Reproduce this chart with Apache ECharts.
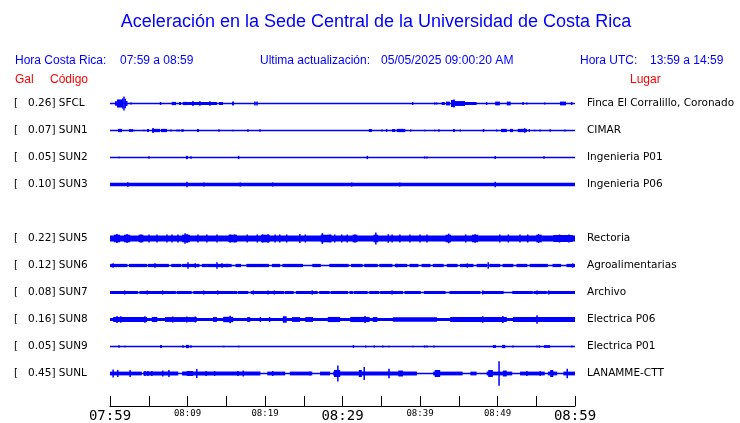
<!DOCTYPE html>
<html><head><meta charset="utf-8">
<script src="https://cdn.jsdelivr.net/npm/echarts@6/dist/echarts.min.js"></script>
<style>html,body{margin:0;padding:0;background:#fff}#c{width:740px;height:423px}</style>
</head><body><div id="c"></div>
<script>
// ---- data ----
const codes  = ['SFCL','SUN1','SUN2','SUN3','SUN5','SUN6','SUN7','SUN8','SUN9','SUNL'];
const peaks  = ['0.26','0.07','0.05','0.10','0.22','0.12','0.08','0.16','0.05','0.45'];
const places = ['Finca El Corralillo, Coronado','CIMAR','Ingenieria P01','Ingenieria P06','Rectoria','Agroalimentarias','Archivo','Electrica P06','Electrica P01','LANAMME-CTT'];
const rows   = [0,1,2,3,5,6,7,8,9,10];   // SUN4 slot (row 4) is empty
const tickLabels = ['07:59','','08:09','','08:19','','08:29','','08:39','','08:49','','08:59'];
const bigTicks = [0,6,12];
const title = 'Aceleración en la Sede Central de la Universidad de Costa Rica';
const headerCR = ['Hora Costa Rica:','07:59 a 08:59'];
const headerUpd = ['Ultima actualización:','05/05/2025 09:00:20 AM'];
const headerUTC = ['Hora UTC:','13:59 a 14:59'];
const colHeads = ['Gal','Código','Lugar'];

// trace envelopes: [minStart, minEnd, halfAmplitude(gal)] or spike [min, halfAmplitude]
const sfcl = [[0.65,0.9,0.085],[0.9,1.55,0.15],[1.55,1.74,0.19],[1.74,1.87,0.26],[1.87,2.06,0.18],[2.06,2.26,0.09],[2.71,0.04],[6.45,6.6,0.055],[7.96,8.52,0.06],[8.9,9.16,0.055],[9.38,9.94,0.06],[9.94,13.8,0.055],[10.7,0.09],[11.6,0.08],[12.9,0.08],[14.06,14.58,0.055],[15.74,16.0,0.07],[18.7,0.07],[18.97,0.07],[39.06,0.055],[41.9,0.04],[42.15,0.04],[42.8,43.2,0.055],[43.35,43.87,0.07],[44.0,44.5,0.13],[44.4,0.15],[44.5,45.8,0.09],[45.8,47.3,0.055],[48.6,0.055],[49.7,50.3,0.07],[51.2,51.7,0.07],[53.3,0.055],[53.8,0.04],[56.1,0.04],[58.06,58.84,0.07],[59.57,0.055]];
const sun1 = [[1.03,1.55,0.06],[2.45,2.97,0.05],[3.1,0.03],[4.39,0.03],[4.77,5.03,0.055],[5.42,6.45,0.06],[5.55,0.09],[6.58,7.35,0.06],[7.87,0.04],[8.65,0.04],[8.9,0.04],[9.29,0.05],[9.42,0.05],[11.23,11.48,0.06],[14.06,0.05],[15.87,0.03],[17.8,0.05],[19.35,0.05],[33.4,33.8,0.055],[35.1,0.04],[35.7,0.05],[36.4,36.8,0.055],[37.0,38.1,0.06],[38.8,0.04],[40.6,0.02],[41.9,0.03],[42.45,0.05],[44.26,44.5,0.06],[45.2,0.04],[48.1,48.3,0.055],[49.9,0.04],[50.45,51.2,0.06],[51.6,52.0,0.06],[52.6,53.8,0.06],[53.5,0.085],[54.1,0.05],[54.8,0.03],[55.5,0.04],[56.8,0.05],[58.7,0.04]];
const sun2 = [[1.16,0.03],[5.03,0.05],[9.8,10.06,0.06],[10.45,0.05],[16.6,0.06],[33.2,0.06],[40.6,0.04],[40.9,0.04],[49.7,0.06],[56.0,0.05]];
const sun3 = [[0,60,0.068],[2.3,0.08],[9.94,0.1],[12.1,0.075],[16.8,0.075],[21.0,0.075],[31.2,0.075],[37.4,0.075],[49.7,0.1]];
const sun5 = [[0,60,0.115],[0.5,1.3,0.14],[1.8,2.6,0.14],[3.7,4.3,0.14],[9.3,10.3,0.14],[15.3,16.4,0.14],[19.5,20.6,0.14],[27.2,28.6,0.14],[31.3,31.9,0.14],[34.0,34.6,0.14],[43.3,44.0,0.14],[46.7,47.5,0.14],[55.0,55.7,0.14],[57.2,59.7,0.13],
  [0.9,0.17],[2.2,0.17],[4.0,0.15],[5.03,0.15],[6.06,0.15],[7.35,0.15],[8.0,0.15],[8.77,0.15],[9.68,0.19],[9.94,0.17],[11.35,0.15],[12.5,0.15],[13.8,0.15],[15.5,0.15],[16.1,0.15],[17.7,0.15],[19.0,0.15],[19.7,0.15],[20.4,0.16],[21.3,0.15],[21.9,0.15],[22.8,0.15],[24.5,0.17],[25.2,0.15],[27.4,0.2],[28.4,0.15],[29.0,0.15],[29.9,0.15],[30.6,0.15],[31.6,0.15],[34.3,0.22],[35.9,0.16],[36.4,0.15],[37.4,0.15],[38.7,0.15],[40.0,0.15],[40.9,0.15],[43.7,0.18],[45.9,0.15],[47.1,0.16],[50.3,0.15],[51.4,0.15],[52.9,0.15],[53.9,0.15],[55.3,0.17],[58.0,0.15],[59.2,0.15]];
const sun6 = [[0,2.25,0.06],[2.45,4.8,0.06],[4.9,7.6,0.06],[7.9,9.2,0.06],[9.3,11.55,0.06],[11.85,15.7,0.06],[16.2,16.9,0.06],[17.6,20.5,0.06],[20.9,21.95,0.06],[22.25,24.9,0.06],[26.1,27.2,0.06],[28.3,30.8,0.06],[31.1,32.6,0.06],[32.8,34.55,0.06],[34.75,36.45,0.06],[36.75,38.35,0.06],[38.65,39.8,0.06],[40.2,41.35,0.06],[41.65,43.05,0.06],[43.45,44.85,0.06],[45.15,46.9,0.06],[47.3,48.65,0.06],[48.95,50.35,0.06],[50.65,52.05,0.06],[52.45,53.85,0.06],[54.15,56.5,0.06],[57.1,58.2,0.06],[58.9,60,0.06],
  [0.4,0.085],[5.8,0.08],[10.06,0.12],[11.0,0.08],[13.8,0.12],[14.45,0.08],[15.1,0.065],[37.0,0.065],[46.1,0.08],[48.8,0.12],[59.7,0.08]];
const sun7 = [[0,3.6,0.055],[3.8,8.5,0.055],[8.6,10.55,0.055],[10.75,16.4,0.055],[16.5,17.85,0.055],[18.15,22.45,0.055],[22.55,23.7,0.055],[24.0,26.8,0.055],[27.0,28.35,0.055],[28.45,30.7,0.055],[30.9,31.35,0.055],[31.45,33.25,0.055],[33.45,34.75,0.055],[34.85,37.8,0.055],[38.0,40.1,0.055],[40.5,43.3,0.055],[43.8,47.8,0.055],[48.0,50.8,0.055],[51.9,54.55,0.055],[54.65,56.35,0.055],[56.45,60,0.055],
  [1.9,0.075],[4.8,0.075],[6.8,0.075],[12.1,0.075],[13.9,0.075],[18.5,0.075],[20.4,0.075],[21.2,0.075],[26.1,0.08],[36.4,0.075],[48.1,0.075],[55.1,0.075],[56.6,0.075]];
const sun8 = [[0,60,0.06],[0.4,4.8,0.095],[5.4,6.1,0.095],[7.1,11.2,0.09],[13.3,13.8,0.09],[14.6,15.9,0.1],[17.7,18.1,0.09],[22.3,22.8,0.12],[23.5,24.5,0.09],[25.2,26.2,0.09],[28.1,29.7,0.095],[31.0,33.5,0.095],[33.9,34.5,0.09],[36.5,42.2,0.085],[43.9,51.2,0.09],[52.0,60,0.09],
  [0.9,0.13],[1.4,0.12],[4.5,0.12],[8.1,0.11],[9.9,0.11],[11.0,0.11],[15.5,0.14],[19.4,0.09],[20.6,0.09],[32.9,0.13],[48.1,0.12],[50.7,0.13],[55.1,0.16]];
const sun9 = [[1.16,0.05],[1.94,0.03],[6.45,6.7,0.055],[9.42,0.05],[9.8,10.2,0.06],[10.45,0.05],[14.7,0.03],[16.6,0.03],[31.4,0.05],[33.0,0.04],[34.1,0.04],[35.2,0.04],[36.0,0.03],[39.1,0.03],[40.6,0.04],[40.9,0.04],[41.8,0.04],[49.4,49.8,0.055],[50.6,51.0,0.06],[52.0,0.04],[55.1,0.04],[55.4,0.04],[56.0,56.8,0.05],[59.6,0.04]];
const sunl = [[0,4.1,0.07],[4.3,8.8,0.07],[9.3,19.4,0.07],[20.3,22.6,0.07],[23.2,26.1,0.07],[27.1,28.4,0.07],[28.8,39.6,0.07],[41.7,45.5,0.07],[46.5,47.3,0.07],[48.6,51.9,0.07],[52.9,56.1,0.07],[56.5,57.7,0.07],[58.5,60,0.07],
  [0.4,0.15],[1.0,0.13],[2.6,0.13],[4.5,0.09],[4.9,0.09],[5.4,0.09],[6.8,0.11],[7.6,0.13],[9.9,10.7,0.09],[11.2,0.17],[12.4,0.09],[13.5,0.09],[16.5,0.09],[17.2,0.11],[21.0,0.09],[25.8,0.075],[28.9,29.7,0.13],[29.4,0.3],[32.1,32.5,0.13],[32.8,0.24],[35.9,36.1,0.18],[37.2,37.8,0.11],[41.9,42.6,0.13],[48.8,49.4,0.13],[50.2,0.45],[50.7,51.2,0.11],[53.8,0.09],[55.5,0.09],[56.8,57.2,0.13],[59.0,0.18]];
const traces = [sfcl,sun1,sun2,sun3,sun5,sun6,sun7,sun8,sun9,sunl];

// ---- build ----
const leftLabels = new Array(11).fill('');
const rightLabels = new Array(11).fill('');
const segs = [];
codes.forEach((c,i)=>{
  const r = rows[i];
  leftLabels[r] = '{a|[}{b|' + peaks[i] + ']}{c| ' + c + '}';
  rightLabels[r] = places[i];
  segs.push([0,60,0,r]);
  traces[i].forEach(e=>{
    if(e.length===2) segs.push([e[0],e[0],e[1],r]);
    else segs.push([e[0],e[1],e[2],r]);
  });
});
const BLUE = '#0000ff';
function renderItem(params, api){
  const t0=api.value(0), t1=api.value(1), a=api.value(2), r=api.value(3);
  const p0=api.coord([t0,r-a]), p1=api.coord([t1,r+a]);
  let x=Math.min(p0[0],p1[0]), w=Math.abs(p1[0]-p0[0]);
  let y=Math.min(p0[1],p1[1]), h=Math.abs(p1[1]-p0[1]);
  if(w<1.5){x=(p0[0]+p1[0])/2-0.75; w=1.5;}
  if(h<1.6){y=(p0[1]+p1[1])/2-0.8; h=1.6;}
  return {type:'rect', shape:{x:x,y:y,width:w,height:h}, style:{fill:BLUE}};
}
const SANS='"Liberation Sans", Arial, sans-serif';
const DV='"DejaVu Sans", sans-serif';
function txt(x,y,s,color,size,align,font){
  return {type:'text', x:x, y:y, style:{text:s, fill:color, font:(size)+'px '+(font||SANS), textAlign:align||'left', textVerticalAlign:'middle'}};
}
const chart = echarts.init(document.getElementById('c'), null, {renderer:'canvas'});
chart.setOption({
  animation:false,
  backgroundColor:'#fff',
  graphic:[
    txt(376,22.5,title,BLUE,18,'center'),
    txt(15,61,headerCR[0],BLUE,12), txt(120,61,headerCR[1],BLUE,12),
    txt(260,61,headerUpd[0],BLUE,12), txt(381,61,headerUpd[1],BLUE,12.1),
    txt(580,61,headerUTC[0],BLUE,12), txt(650,61,headerUTC[1],BLUE,12),
    txt(15,80,colHeads[0],'#ff0000',12), txt(50,80,colHeads[1],'#ff0000',12), txt(630,80,colHeads[2],'#ff0000',12)
  ],
  grid:[
    {left:110, width:465, top:90, height:297},
    {left:110, width:465, top:398, height:10}
  ],
  xAxis:[
    {type:'value', gridIndex:0, min:0, max:60, show:false},
    {type:'value', gridIndex:1, min:0, max:60, interval:5, position:'bottom',
     axisLine:{show:true, lineStyle:{color:'#000', width:1}},
     axisTick:{show:true, inside:true, length:10, lineStyle:{color:'#000', width:1}},
     splitLine:{show:false},
     axisLabel:{show:true, margin:3, showMinLabel:true, showMaxLabel:true, hideOverlap:false,
       formatter:function(v){const i=Math.round(v/5); const s=tickLabels[i]; if(!s) return ''; return bigTicks.indexOf(i)>=0 ? '{big|'+s+'}' : '{sm|'+s+'}';},
       rich:{big:{fontFamily:'"DejaVu Sans Mono", monospace', fontSize:14, color:'#000', lineHeight:14},
             sm:{fontFamily:'"DejaVu Sans Mono", monospace', fontSize:9, color:'#000', lineHeight:10}}}}
  ],
  yAxis:[
    {type:'value', gridIndex:0, min:-0.5, max:10.5, inverse:true, show:false},
    {type:'category', gridIndex:0, position:'left', inverse:true, data:leftLabels,
     axisLine:{show:false}, axisTick:{show:false}, splitLine:{show:false},
     axisLabel:{show:true, interval:0, align:'left', margin:96,
       rich:{a:{width:14, fontFamily:DV, fontSize:10.5, color:'#000'},
             b:{fontFamily:DV, fontSize:10.5, color:'#000'},
             c:{fontFamily:DV, fontSize:10.5, color:'#000'}}}},
    {type:'category', gridIndex:0, position:'right', inverse:true, data:rightLabels,
     axisLine:{show:false}, axisTick:{show:false}, splitLine:{show:false},
     axisLabel:{show:true, interval:0, align:'left', margin:12, fontFamily:DV, fontSize:10.5, color:'#000'}},
    {type:'value', gridIndex:1, show:false}
  ],
  series:[{
    type:'custom', xAxisIndex:0, yAxisIndex:0, clip:false,
    renderItem:renderItem, data:segs, dimensions:['t0','t1','amp','row'],
    encode:{x:[0,1], y:3}
  }]
});
</script></body></html>
